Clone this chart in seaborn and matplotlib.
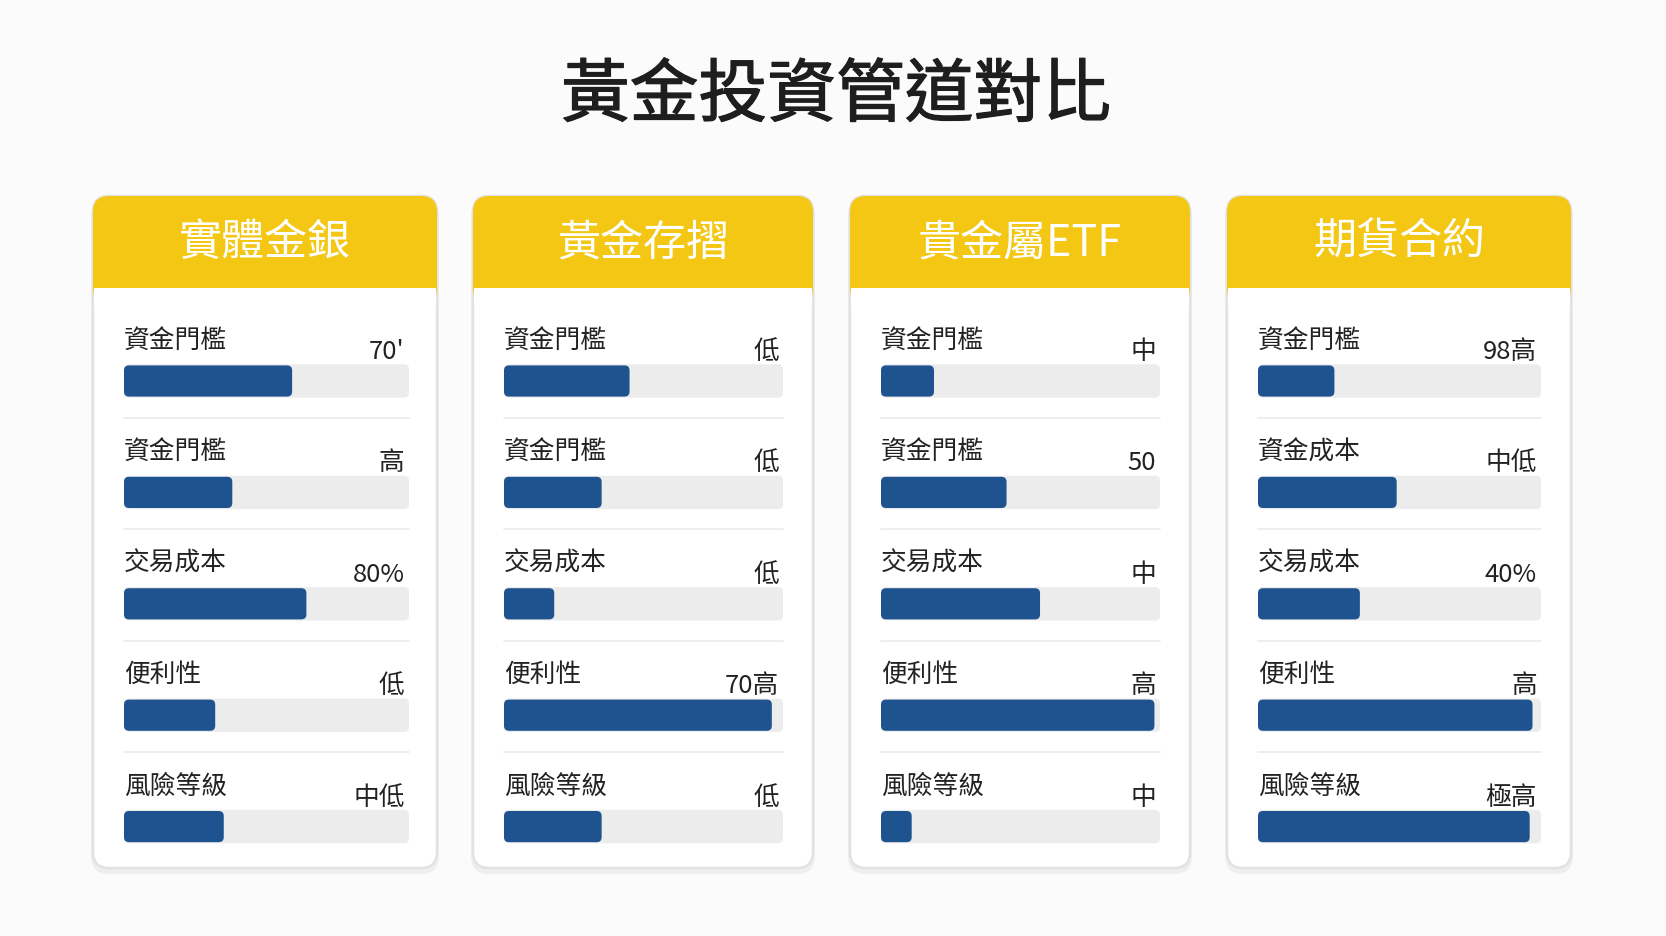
import numpy as np
import pandas as pd
import matplotlib
matplotlib.use("Agg")
import matplotlib.pyplot as plt
import matplotlib.patheffects as pe
from matplotlib.patches import FancyBboxPatch, Rectangle
import seaborn as sns

# ---------------- data ----------------
TITLE = "黃金投資管道對比"
CARD_TITLES = ["實體金銀", "黃金存摺", "貴金屬ETF", "期貨合約"]
ROWS_1 = ["資金門檻", "資金門檻", "交易成本", "便利性", "風險等級"]
ROWS_2 = ["資金門檻", "資金門檻", "交易成本", "便利性", "風險等級"]
ROWS_3 = ["資金門檻", "資金門檻", "交易成本", "便利性", "風險等級"]
ROWS_4 = ["資金門檻", "資金成本", "交易成本", "便利性", "風險等級"]
VALUES_TEXT_1 = ["70'", "高", "80%", "低", "中低"]
VALUES_TEXT_2 = ["低", "低", "低", "70高", "低"]
VALUES_TEXT_3 = ["中", "50", "中", "高", "中"]
VALUES_TEXT_4 = ["98高", "中低", "40%", "高", "極高"]
SCORES_1 = [0.59, 0.38, 0.64, 0.32, 0.35]
SCORES_2 = [0.45, 0.35, 0.18, 0.96, 0.35]
SCORES_3 = [0.19, 0.45, 0.57, 0.98, 0.11]
SCORES_4 = [0.27, 0.49, 0.36, 0.97, 0.96]

ROWS = [ROWS_1, ROWS_2, ROWS_3, ROWS_4]
VALUES_TEXT = [VALUES_TEXT_1, VALUES_TEXT_2, VALUES_TEXT_3, VALUES_TEXT_4]
SCORES = [SCORES_1, SCORES_2, SCORES_3, SCORES_4]

# ---------------- style ----------------
sns.set_theme(style="white")
plt.rcParams['font.family'] = ['Noto Sans CJK TC', 'DejaVu Sans']

BG = "#FBFBFB"
YELLOW = "#F3C714"
BLUE = "#1F5390"
TRACK = "#ECECEC"
SEP = "#EDEDED"
TEXT = "#222222"

W, H = 1666, 937
fig = plt.figure(figsize=(W / 100, H / 100), dpi=100, facecolor=BG)

bg = fig.add_axes([0, 0, 1, 1], zorder=0)
bg.set_xlim(0, W)
bg.set_ylim(H, 0)
bg.axis("off")
bg.set_facecolor(BG)

card_lefts = [93, 473, 850, 1227]
card_ws = [344, 340, 340, 344]
card_top, card_bottom = 197, 869
header_h = 92
rad = 16
inset = 31
track_ws = [285, 279, 279, 283]
row0 = 382
step = 111.4

for i, cl in enumerate(card_lefts):
    card_w = card_ws[i]
    track_w = track_ws[i]
    h = card_bottom - card_top
    # soft shadow
    bg.add_patch(FancyBboxPatch((cl - 2, card_top + 1), card_w + 4, h + 5,
                                boxstyle=f"round,pad=0,rounding_size={rad+2}",
                                fc="#E9E9E9", ec="none", alpha=0.7))
    # card body
    bg.add_patch(FancyBboxPatch((cl, card_top), card_w, h,
                                boxstyle=f"round,pad=0,rounding_size={rad}",
                                fc="white", ec="#E2E2E2", lw=1.8))
    # header
    bg.add_patch(FancyBboxPatch((cl, card_top), card_w, header_h + rad,
                                boxstyle=f"round,pad=0,rounding_size={rad}",
                                fc=YELLOW, ec="none"))
    bg.add_patch(Rectangle((cl + 1, card_top + header_h), card_w - 2, rad + 2,
                           fc="white", ec="none"))
    fig.text((cl + card_w / 2) / W, 1 - (card_top + header_h / 2) / H, CARD_TITLES[i],
             ha="center", va="center", color="white", fontsize=31, fontweight="medium")

    # content axes
    y_top = row0 - 0.5 * step
    ax = fig.add_axes([(cl + inset) / W, 1 - (y_top + 5 * step) / H,
                       track_w / W, 5 * step / H], zorder=2)
    ax.patch.set_alpha(0)
    df = pd.DataFrame({"row": list(range(5)), "score": SCORES[i], "full": [1.0] * 5})
    sns.barplot(data=df, x="full", y="row", orient="h", color=TRACK, width=0.30,
                saturation=1, errorbar=None, ax=ax)
    sns.barplot(data=df, x="score", y="row", orient="h", color=BLUE, width=0.28,
                saturation=1, errorbar=None, ax=ax)
    ax.set_xlim(0, 1)
    ax.set_ylim(4.5, -0.5)

    # round the bars
    r = 5 / track_w
    asp = (1 / step) / (1 / track_w)
    patches = list(ax.patches)
    for p in patches:
        x0, y0 = p.get_x(), p.get_y()
        w0, h0 = p.get_width(), p.get_height()
        fc = p.get_facecolor()
        p.remove()
        ax.add_patch(FancyBboxPatch((x0, y0), w0, h0,
                                    boxstyle=f"round,pad=0,rounding_size={r}",
                                    mutation_aspect=asp, fc=fc, ec="none", clip_on=False))

    for k in range(5):
        ax.text(0, k - 0.37, ROWS[i][k], ha="left", va="center", fontsize=18.5, color=TEXT)
        ax.text(0.985, k - 0.27, VALUES_TEXT[i][k], ha="right", va="center",
                fontsize=18.5, color=TEXT)
        if k < 4:
            ax.plot([0, 1], [k + 0.33, k + 0.33], color=SEP, lw=1.3, clip_on=False)
    ax.axis("off")

fig.text(836 / W, 1 - 98 / H, TITLE, ha="center", va="center", fontsize=49.5,
         fontweight="medium", color="#1E1E1E",
         path_effects=[pe.withStroke(linewidth=0.9, foreground="#1E1E1E")])

fig.savefig("out.png", dpi=100, facecolor=BG)
